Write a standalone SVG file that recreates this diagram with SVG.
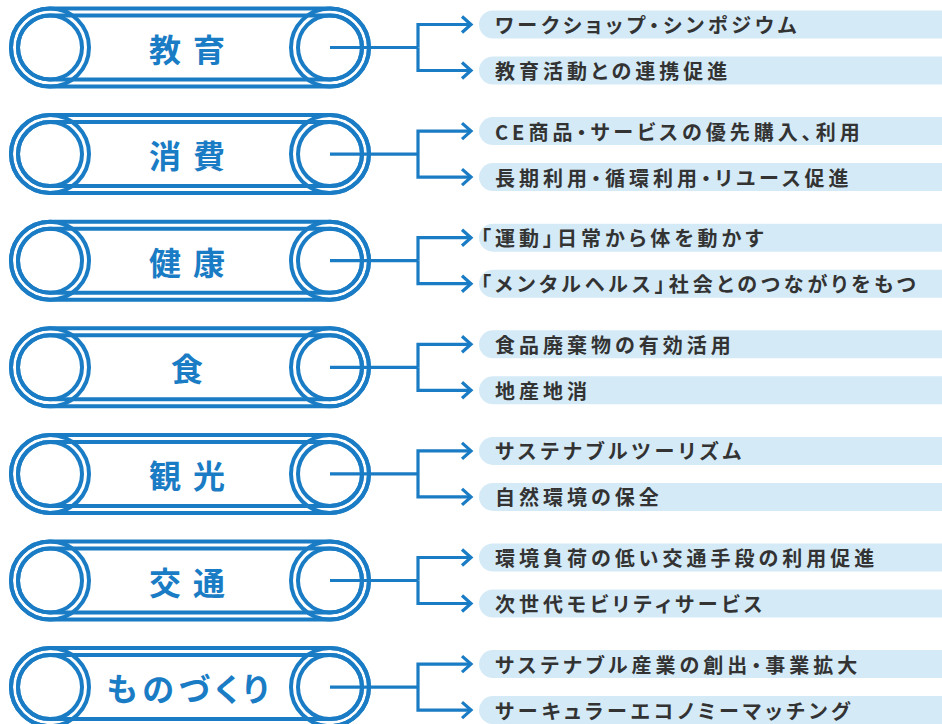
<svg xmlns="http://www.w3.org/2000/svg" width="942" height="724" viewBox="0 0 942 724">
<defs>
<style>
.ring{fill:none;stroke:#1a7cc4;stroke-width:4}
.title{font-family:"Noto Sans CJK JP","Noto Sans",sans-serif;font-weight:700;font-size:32px;fill:#1a7cc4;text-anchor:middle;dominant-baseline:central;font-feature-settings:"palt"}
.pill{fill:#d4eaf7}
.lbl{font-family:"Noto Sans CJK JP","Noto Sans",sans-serif;font-weight:700;font-size:20px;fill:#333333;letter-spacing:4px;dominant-baseline:central;font-feature-settings:"palt"}
.conn{fill:none;stroke:#1a7cc4;stroke-width:3.2}
</style>
<marker id="chev" markerUnits="userSpaceOnUse" markerWidth="20" markerHeight="20" refX="0" refY="0" viewBox="-12 -10 14 20" orient="auto" overflow="visible">
<path d="M-9,-8 L0,0 L-9,8" fill="none" stroke="#1a7cc4" stroke-width="3.2"/>
</marker>
<g id="belt">
<rect class="ring" x="11" y="-39" width="358" height="78" rx="39"/>
<rect class="ring" x="18" y="-32" width="344" height="64" rx="32"/>
<circle class="ring" cx="50" cy="0" r="39"/>
<circle class="ring" cx="50" cy="0" r="32"/>
<circle class="ring" cx="330" cy="0" r="39"/>
<circle class="ring" cx="330" cy="0" r="32"/>
</g>
</defs>

<g id="node-kyoiku" transform="translate(0,47.5)"><use href="#belt"/><text class="title" x="193" y="0" letter-spacing="12">教育</text></g>
<g id="node-shohi" transform="translate(0,154.1)"><use href="#belt"/><text class="title" x="193" y="0" letter-spacing="12">消費</text></g>
<g id="node-kenko" transform="translate(0,260.7)"><use href="#belt"/><text class="title" x="193" y="0" letter-spacing="12">健康</text></g>
<g id="node-shoku" transform="translate(0,367.3)"><use href="#belt"/><text class="title" x="187" y="0">食</text></g>
<g id="node-kanko" transform="translate(0,473.9)"><use href="#belt"/><text class="title" x="193" y="0" letter-spacing="12">観光</text></g>
<g id="node-kotsu" transform="translate(0,580.5)"><use href="#belt"/><text class="title" x="193" y="0" letter-spacing="12">交通</text></g>
<g id="node-monozukuri" transform="translate(0,687.1)"><use href="#belt"/><text class="title" x="190" y="0" letter-spacing="5">ものづくり</text></g>

<g id="connectors">
<g transform="translate(0,47.5)"><path class="conn" d="M330,0 H418"/><path class="conn" d="M418,0 V-23 H471" marker-end="url(#chev)"/><path class="conn" d="M418,0 V23 H471" marker-end="url(#chev)"/></g>
<g transform="translate(0,154.1)"><path class="conn" d="M330,0 H418"/><path class="conn" d="M418,0 V-23 H471" marker-end="url(#chev)"/><path class="conn" d="M418,0 V23 H471" marker-end="url(#chev)"/></g>
<g transform="translate(0,260.7)"><path class="conn" d="M330,0 H418"/><path class="conn" d="M418,0 V-23 H471" marker-end="url(#chev)"/><path class="conn" d="M418,0 V23 H471" marker-end="url(#chev)"/></g>
<g transform="translate(0,367.3)"><path class="conn" d="M330,0 H418"/><path class="conn" d="M418,0 V-23 H471" marker-end="url(#chev)"/><path class="conn" d="M418,0 V23 H471" marker-end="url(#chev)"/></g>
<g transform="translate(0,473.9)"><path class="conn" d="M330,0 H418"/><path class="conn" d="M418,0 V-23 H471" marker-end="url(#chev)"/><path class="conn" d="M418,0 V23 H471" marker-end="url(#chev)"/></g>
<g transform="translate(0,580.5)"><path class="conn" d="M330,0 H418"/><path class="conn" d="M418,0 V-23 H471" marker-end="url(#chev)"/><path class="conn" d="M418,0 V23 H471" marker-end="url(#chev)"/></g>
<g transform="translate(0,687.1)"><path class="conn" d="M330,0 H418"/><path class="conn" d="M418,0 V-23 H471" marker-end="url(#chev)"/><path class="conn" d="M418,0 V23 H471" marker-end="url(#chev)"/></g>
</g>

<g id="label-1a"><rect class="pill" x="479" y="10.5" width="480" height="28" rx="14"/><text class="lbl" x="495" y="24.5">ワークショップ・シンポジウム</text></g>
<g id="label-1b"><rect class="pill" x="479" y="56.5" width="480" height="28" rx="14"/><text class="lbl" x="495" y="70.5">教育活動との連携促進</text></g>
<g id="label-2a"><rect class="pill" x="479" y="117.1" width="480" height="28" rx="14"/><text class="lbl" x="495" y="131.1">CE商品・サービスの優先購入、利用</text></g>
<g id="label-2b"><rect class="pill" x="479" y="163.1" width="480" height="28" rx="14"/><text class="lbl" x="495" y="177.1">長期利用・循環利用・リユース促進</text></g>
<g id="label-3a"><rect class="pill" x="479" y="223.7" width="480" height="28" rx="14"/><text class="lbl" x="481" y="237.7">「運動」日常から体を動かす</text></g>
<g id="label-3b"><rect class="pill" x="479" y="269.7" width="480" height="28" rx="14"/><text class="lbl" x="481" y="283.7">「メンタルヘルス」社会とのつながりをもつ</text></g>
<g id="label-4a"><rect class="pill" x="479" y="330.3" width="480" height="28" rx="14"/><text class="lbl" x="495" y="344.3">食品廃棄物の有効活用</text></g>
<g id="label-4b"><rect class="pill" x="479" y="376.3" width="480" height="28" rx="14"/><text class="lbl" x="495" y="390.3">地産地消</text></g>
<g id="label-5a"><rect class="pill" x="479" y="436.9" width="480" height="28" rx="14"/><text class="lbl" x="495" y="450.9">サステナブルツーリズム</text></g>
<g id="label-5b"><rect class="pill" x="479" y="482.9" width="480" height="28" rx="14"/><text class="lbl" x="495" y="496.9">自然環境の保全</text></g>
<g id="label-6a"><rect class="pill" x="479" y="543.5" width="480" height="28" rx="14"/><text class="lbl" x="495" y="557.5">環境負荷の低い交通手段の利用促進</text></g>
<g id="label-6b"><rect class="pill" x="479" y="589.5" width="480" height="28" rx="14"/><text class="lbl" x="495" y="603.5">次世代モビリティサービス</text></g>
<g id="label-7a"><rect class="pill" x="479" y="650.1" width="480" height="28" rx="14"/><text class="lbl" x="495" y="664.1">サステナブル産業の創出・事業拡大</text></g>
<g id="label-7b"><rect class="pill" x="479" y="696.1" width="480" height="28" rx="14"/><text class="lbl" x="495" y="710.1">サーキュラーエコノミーマッチング</text></g>
</svg>
